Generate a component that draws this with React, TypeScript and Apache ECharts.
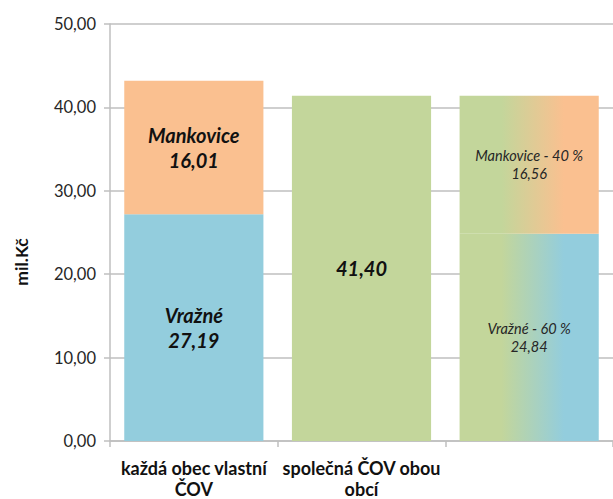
import React, { useEffect, useRef } from "react";
import * as echarts from "echarts";

const categories = ["každá obec vlastní\nČOV", "společná ČOV obou\nobcí", ""];
const vrazne = [27.19, null, 24.84];
const mankovice = [16.01, null, 16.56];
const spolecna = [null, 41.4, null];
const yTicks = { min: 0, max: 50, interval: 10 };
const labelsVrazne = ["Vražné", "", "Vražné - 60 %"];
const labelsMankovice = ["Mankovice", "", "Mankovice - 40 %"];
const yAxisTitle = "mil.Kč";

const BLUE = "#93CDDD";
const ORANGE = "#FAC090";
const GREEN = "#C3D69B";
const FONT = "Lato, 'Open Sans', sans-serif";

const fmt = (v: number) => v.toFixed(2).replace(".", ",");

function grad(to: string) {
  return new echarts.graphic.LinearGradient(0, 0, 1, 0, [
    { offset: 0, color: GREEN },
    { offset: 0.3, color: GREEN },
    { offset: 0.75, color: to },
    { offset: 1, color: to },
  ]);
}

function makeData(values: (number | null)[], names: string[], color: string) {
  return values.map((v, i) => {
    if (v == null) return "-";
    const isSplit = i === 2;
    return {
      value: v,
      itemStyle: { color: isSplit ? grad(color) : color },
      label: {
        show: true,
        position: "inside",
        formatter: () => `${names[i]}\n${fmt(v)}`,
        fontFamily: FONT,
        fontStyle: "italic",
        fontWeight: isSplit ? "normal" : "bold",
        fontSize: isSplit ? 14.5 : 20,
        lineHeight: isSplit ? 18 : 25,
        color: isSplit ? "#262626" : "#111",
      },
    };
  });
}

export default function App() {
  const ref = useRef<HTMLDivElement>(null);
  useEffect(() => {
    document.body.style.margin = "0";
    document.body.style.overflow = "hidden";
    const chart = echarts.init(ref.current!, null, { renderer: "svg" });
    chart.setOption({
      animation: false,
      grid: { left: 110, top: 24, height: 419, width: 513, containLabel: false },
      graphic: [
        {
          type: "text",
          x: 21,
          y: 262,
          rotation: Math.PI / 2,
          style: {
            text: yAxisTitle,
            fontFamily: FONT,
            fontWeight: "bold",
            fontSize: 17.5,
            fill: "#111",
            textAlign: "center",
            textVerticalAlign: "middle",
          },
        },
      ],
      xAxis: {
        type: "category",
        data: categories,
        axisLine: { lineStyle: { color: "#bfbfbf", width: 1.5 } },
        axisTick: { show: true, length: 6, lineStyle: { color: "#bfbfbf", width: 1.5 } },
        axisLabel: {
          fontFamily: FONT,
          fontWeight: "bold",
          fontSize: 18,
          lineHeight: 21,
          color: "#111",
          margin: 16,
          interval: 0,
        },
      },
      yAxis: {
        type: "value",
        min: yTicks.min,
        max: yTicks.max,
        interval: yTicks.interval,
        axisLine: { show: true, lineStyle: { color: "#bfbfbf", width: 1.5 } },
        axisTick: { show: true, length: 6, lineStyle: { color: "#bfbfbf", width: 1.5 } },
        splitLine: { lineStyle: { color: "#bfbfbf", width: 1.5 } },
        axisLabel: {
          formatter: (v: number) => fmt(v),
          fontFamily: FONT,
          fontSize: 16.5,
          color: "#262626",
          margin: 14,
        },
      },
      series: [
        {
          name: "Vražné",
          type: "bar",
          stack: "a",
          barCategoryGap: "17%",
          data: makeData(vrazne, labelsVrazne, BLUE),
        },
        {
          name: "Mankovice",
          type: "bar",
          stack: "a",
          barCategoryGap: "17%",
          data: makeData(mankovice, labelsMankovice, ORANGE),
        },
        {
          name: "společná ČOV",
          type: "bar",
          stack: "a",
          barCategoryGap: "17%",
          data: spolecna.map((v) =>
            v == null
              ? "-"
              : {
                  value: v,
                  itemStyle: { color: GREEN },
                  label: {
                    show: true,
                    position: "inside",
                    formatter: () => fmt(v),
                    fontFamily: FONT,
                    fontStyle: "italic",
                    fontWeight: "bold",
                    fontSize: 20,
                    color: "#111",
                  },
                }
          ),
        },
      ],
    });
    return () => chart.dispose();
  }, []);
  return <div ref={ref} style={{ width: 613, height: 499 }} />;
}
